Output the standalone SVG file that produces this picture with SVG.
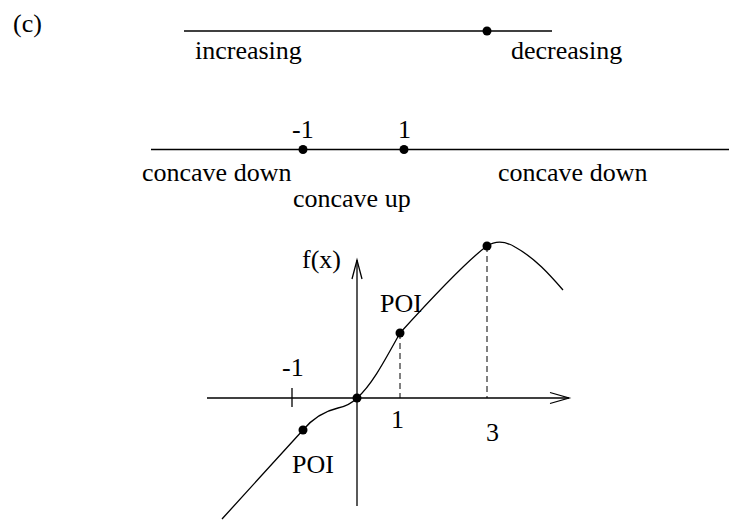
<svg xmlns="http://www.w3.org/2000/svg" width="729" height="523" viewBox="0 0 729 523">
<style>
text{font-family:"Liberation Serif","Times New Roman",serif;font-size:26px;fill:#000}
.ln{stroke:#000;stroke-width:1.3;fill:none}
.dash{stroke:#000;stroke-width:1;fill:none;stroke-dasharray:6,4}
.dot{fill:#000}
</style>
<rect width="729" height="523" fill="#fff"/>
<text x="13" y="32">(c)</text>
<g id="line1">
<line class="ln" x1="184" y1="31" x2="552" y2="31"/>
<circle class="dot" cx="487" cy="31" r="4.5"/>
<text x="195" y="59">increasing</text>
<text x="511" y="59">decreasing</text>
</g>
<g id="line2">
<line class="ln" x1="151" y1="149.5" x2="729" y2="149.5"/>
<circle class="dot" cx="303" cy="149.5" r="4.5"/>
<circle class="dot" cx="404" cy="149.5" r="4.5"/>
<text x="292" y="138">-1</text>
<text x="398" y="138">1</text>
<text x="142" y="181">concave down</text>
<text x="293" y="207">concave up</text>
<text x="498" y="181">concave down</text>
</g>
<g id="axes">
<line class="ln" x1="207" y1="398" x2="569" y2="398"/>
<polyline class="ln" points="550,392.5 569,398 550,403.5"/>
<line class="ln" x1="357" y1="506" x2="357" y2="260"/>
<polyline class="ln" points="352,279 357,260 362,279"/>
<line class="ln" x1="292" y1="388" x2="292" y2="407"/>
<text x="302" y="268">f(x)</text>
<text x="282" y="376">-1</text>
<text x="391" y="428">1</text>
<text x="486" y="441">3</text>
</g>
<g id="curve">
<path class="ln" d="M222,519 L303,430 C314,417 325,411 338,408 C348,406 353,402 357,398 C372,385 385,360 400,333 C430,300 465,262 487,246 C495,241 505,241 515,247 C535,258 550,275 563,290"/>
<line class="dash" x1="400" y1="333" x2="400" y2="398"/>
<line class="dash" x1="487" y1="246" x2="487" y2="398"/>
<circle class="dot" cx="357" cy="398" r="4.5"/>
<circle class="dot" cx="303" cy="430" r="4.5"/>
<circle class="dot" cx="400" cy="333" r="4.5"/>
<circle class="dot" cx="487" cy="246" r="4.5"/>
<text x="380" y="312">POI</text>
<text x="292" y="473">POI</text>
</g>
</svg>
